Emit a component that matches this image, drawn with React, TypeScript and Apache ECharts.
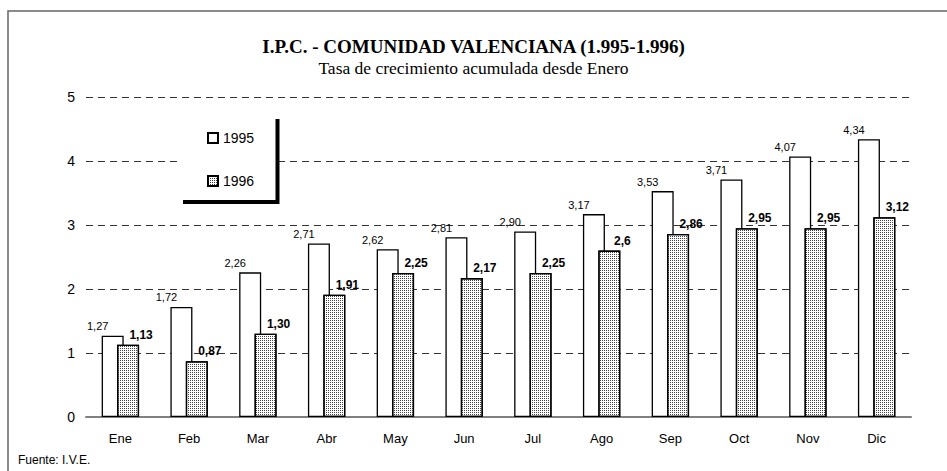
import React, { useEffect, useRef } from "react";
import * as echarts from "echarts";

const categories = ["Ene", "Feb", "Mar", "Abr", "May", "Jun", "Jul", "Ago", "Sep", "Oct", "Nov", "Dic"];
const ipc1995 = [1.27, 1.72, 2.26, 2.71, 2.62, 2.81, 2.9, 3.17, 3.53, 3.71, 4.07, 4.34];
const ipc1996 = [1.13, 0.87, 1.3, 1.91, 2.25, 2.17, 2.25, 2.6, 2.86, 2.95, 2.95, 3.12];
const labels1996 = ["1,13", "0,87", "1,30", "1,91", "2,25", "2,17", "2,25", "2,6", "2,86", "2,95", "2,95", "3,12"];
const seriesNames = ["1995", "1996"];
const yMin = 0;
const yMax = 5;
const yInterval = 1;
const titleText = "I.P.C. - COMUNIDAD VALENCIANA (1.995-1.996)";
const subtitleText = "Tasa de crecimiento acumulada desde Enero";
const sourceText = "Fuente: I.V.E.";

const SANS = "Liberation Sans, Arial, sans-serif";
const SERIF = "Liberation Serif, Times New Roman, serif";

export default function App() {
  const ref = useRef<HTMLDivElement>(null);

  useEffect(() => {
    if (!ref.current) return;
    const chart = echarts.init(ref.current, null, { renderer: "svg" });
    chart.setOption({
      animation: false,
      backgroundColor: "#ffffff",
      title: {
        text: titleText,
        subtext: subtitleText,
        left: "center",
        top: 32,
        itemGap: 3,
        textStyle: { fontFamily: SERIF, fontWeight: "bold", fontSize: 19, color: "#000" },
        subtextStyle: { fontFamily: SERIF, fontSize: 17.5, color: "#000" },
      },
      legend: {
        orient: "vertical",
        left: 207,
        top: 131,
        padding: 0,
        itemWidth: 10,
        itemHeight: 10,
        itemGap: 29,
        icon: "rect",
        z: 10,
        textStyle: { fontFamily: SANS, fontSize: 14, color: "#000" },
        data: seriesNames,
      },
      grid: { left: 86, right: 36, top: 97, bottom: 54 },
      xAxis: {
        type: "category",
        data: categories,
        axisLine: { lineStyle: { color: "#808080", width: 2 } },
        axisTick: { show: false },
        axisLabel: { fontFamily: SANS, fontSize: 13, color: "#000", margin: 15 },
      },
      yAxis: {
        type: "value",
        min: yMin,
        max: yMax,
        interval: yInterval,
        axisLine: { show: false },
        axisTick: { show: false },
        axisLabel: { fontFamily: SANS, fontSize: 14, color: "#000", margin: 11 },
        splitLine: { lineStyle: { color: "#333", width: 1, type: [7, 5] } },
      },
      graphic: [
        {
          type: "rect",
          z: 5,
          shape: { x: 8, y: 11, width: 1200, height: 800 },
          style: { fill: "none", stroke: "#666", lineWidth: 1.5 },
          silent: true,
        },
        {
          type: "rect",
          z: 5,
          shape: { x: 182, y: 117, width: 96, height: 85 },
          style: { fill: "#fff" },
          silent: true,
        },
        {
          type: "polyline",
          z: 6,
          shape: { points: [[183, 202], [277.5, 202], [277.5, 119]] },
          style: { stroke: "#000", lineWidth: 4, fill: "none" },
          silent: true,
        },
        {
          type: "text",
          left: 18,
          top: 454,
          style: { text: sourceText, font: `12px ${SANS}`, fill: "#000" },
        },
      ],
      series: [
        {
          name: seriesNames[0],
          type: "bar",
          data: ipc1995,
          barWidth: 22,
          barGap: "-30%",
          itemStyle: { color: "#fff", borderColor: "#000", borderWidth: 1.3 },
          label: {
            show: true,
            position: "top",
            distance: 4,
            offset: [-15, 0],
            fontFamily: SANS,
            fontSize: 11,
            color: "#000",
            formatter: (p: any) => p.value.toFixed(2).replace(".", ","),
          },
        },
        {
          name: seriesNames[1],
          type: "bar",
          data: ipc1996,
          barWidth: 22,
          barGap: "-30%",
          itemStyle: {
            color: "#fff",
            borderColor: "#000",
            borderWidth: 1.3,
            decal: {
              symbol: "rect",
              symbolSize: 1,
              color: "#444",
              dashArrayX: [1, 1],
              dashArrayY: [1, 1],
              rotation: 0,
            },
          },
          label: {
            show: true,
            position: "top",
            distance: 4,
            offset: [13, 0],
            fontFamily: SANS,
            fontSize: 12,
            fontWeight: "bold",
            color: "#000",
            formatter: (p: any) => labels1996[p.dataIndex],
          },
        },
      ],
    });
    return () => chart.dispose();
  }, []);

  return (
    <div
      ref={ref}
      style={{ position: "fixed", left: 0, top: 0, width: 947, height: 471 }}
    />
  );
}
